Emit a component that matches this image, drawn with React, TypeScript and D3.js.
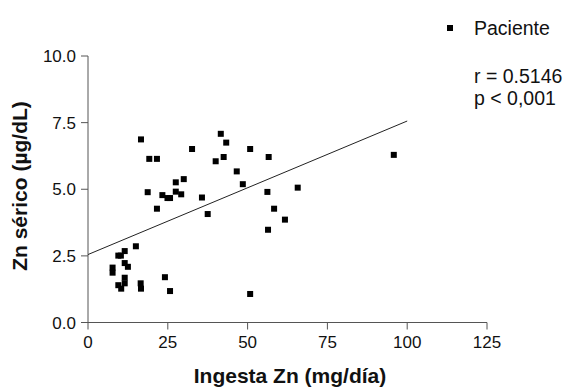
import React from "react";
import * as d3 from "d3";

const xIngesta: number[] = [
  16.6, 19.2, 21.6, 32.6, 27.5, 30.0, 18.7, 23.3, 24.9, 25.7, 27.5, 29.2, 35.7, 21.6, 37.5,
  15.0, 11.5, 9.5, 10.3, 11.5, 12.5, 7.7, 7.7, 11.5, 24.1, 11.5, 9.5, 10.4, 16.5, 16.6, 25.7,
  41.6, 43.3, 50.8, 40.0, 42.5, 56.6, 46.6, 48.5, 56.2, 65.7, 58.3, 61.7, 56.4, 50.8, 95.8,
];
const yZn: number[] = [
  6.87, 6.14, 6.14, 6.51, 5.26, 5.38, 4.89, 4.78, 4.67, 4.67, 4.91, 4.81, 4.69, 4.27, 4.07,
  2.86, 2.68, 2.51, 2.51, 2.23, 2.09, 2.06, 1.87, 1.68, 1.70, 1.47, 1.40, 1.27, 1.47, 1.27, 1.18,
  7.08, 6.75, 6.51, 6.05, 6.21, 6.21, 5.67, 5.19, 4.90, 5.06, 4.27, 3.86, 3.48, 1.07, 6.29,
];
const fitX: number[] = [0, 100];
const fitY: number[] = [2.55, 7.56];
const xTicks: number[] = [0, 25, 50, 75, 100, 125];
const yTicks: number[] = [0, 2.5, 5, 7.5, 10];
const legendLabel = "Paciente";
const statLines: string[] = ["r = 0.5146", "p < 0,001"];

export default function App() {
  const W = 576, H = 390;
  const x = d3.scaleLinear().domain([0, 125]).range([88, 487]);
  const y = d3.scaleLinear().domain([0, 10]).range([322.5, 56]);
  const font = "Arial, 'Liberation Sans', sans-serif";
  const axisColor = "#555";
  const line = d3.line<number>().x((_, i) => x(fitX[i])).y((d) => y(d));
  const ms = 6;
  return (
    <svg width={W} height={H} style={{ position: "absolute", left: 0, top: 0, background: "#fff" }} fontFamily={font}>
      {/* Y axis */}
      <line x1={x(0)} x2={x(0)} y1={y(10)} y2={y(0)} stroke={axisColor} strokeWidth={1} />
      {yTicks.map((t) => (
        <g key={"yt" + t}>
          <line x1={x(0) - 7} x2={x(0)} y1={y(t)} y2={y(t)} stroke={axisColor} />
          <text x={x(0) - 12} y={y(t)} dy="0.36em" textAnchor="end" fontSize={17} fill="#111">
            {t.toFixed(1)}
          </text>
        </g>
      ))}
      {/* X axis */}
      <line x1={x(0)} x2={x(125)} y1={y(0)} y2={y(0)} stroke={axisColor} strokeWidth={1} />
      {xTicks.map((t) => (
        <g key={"xt" + t}>
          <line x1={x(t)} x2={x(t)} y1={y(0)} y2={y(0) + 7} stroke={axisColor} />
          <text x={x(t)} y={348} textAnchor="middle" fontSize={17} fill="#111">
            {t}
          </text>
        </g>
      ))}
      {/* titles */}
      <text x={290} y={383} textAnchor="middle" fontSize={21} fontWeight="bold" fill="#111">
        Ingesta Zn (mg/día)
      </text>
      <text transform={`translate(26.5,186) rotate(-90)`} textAnchor="middle" fontSize={21} fontWeight="bold" fill="#111">
        Zn sérico (µg/dL)
      </text>
      {/* regression line */}
      <path d={line(fitY) || ""} fill="none" stroke="#222" strokeWidth={1} />
      {/* points */}
      {xIngesta.map((v, i) => (
        <rect key={"p" + i} x={x(v) - ms / 2} y={y(yZn[i]) - ms / 2} width={ms} height={ms} fill="#000" />
      ))}
      {/* legend */}
      <rect x={447} y={25} width={6} height={6} fill="#000" />
      <text x={474} y={28} dy="0.36em" fontSize={19.5} fill="#111">{legendLabel}</text>
      {statLines.map((s, i) => (
        <text key={"s" + i} x={474} y={76 + i * 21.5} dy="0.36em" fontSize={19.5} fill="#111">{s}</text>
      ))}
    </svg>
  );
}
